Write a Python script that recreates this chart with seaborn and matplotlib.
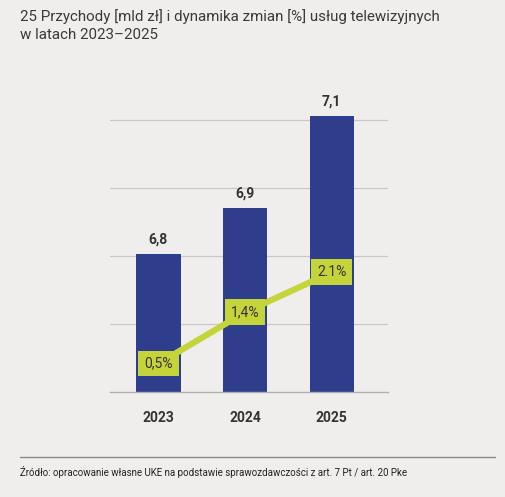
import matplotlib
matplotlib.use("Agg")
import matplotlib.pyplot as plt
import seaborn as sns
import pandas as pd
import numpy as np

years = ["2023", "2024", "2025"]
revenue = [6.8, 6.9, 7.1]          # mld zł
growth = [0.5, 1.4, 2.1]           # %
revenue_labels = ["6,8", "6,9", "7,1"]
growth_labels = ["0,5%", "1,4%", "2.1%"]

title = "25 Przychody [mld zł] i dynamika zmian [%] usług telewizyjnych\nw latach 2023\u20132025"
source = "Źródło: opracowanie własne UKE na podstawie sprawozdawczości z art. 7 Pt / art. 20 Pke"

BG = "#efeeec"
BAR = "#2e3e8d"
LIME = "#c5d439"
TXT = "#333333"

sns.set_theme(style="white")
plt.rcParams["font.family"] = ["Roboto", "DejaVu Sans"]

df = pd.DataFrame({"year": years, "revenue": revenue, "growth": growth})

fig = plt.figure(figsize=(5.05, 4.97), dpi=100, facecolor=BG)
ax = fig.add_axes([110 / 505, 105 / 497, 278 / 505, 292 / 497])
ax.set_facecolor("none")

sns.barplot(data=df, x="year", y="revenue", color=BAR, width=0.51,
            saturation=1, linewidth=0, edgecolor="none", ax=ax, zorder=2)
ax.set_ylim(6.5, 6.5 + 292 / 460)
ax.set_xlim(-0.56, 2.65)
ax.set_yticks(6.5 + 0.1478 * np.arange(1, 5))
ax.yaxis.grid(True, color="#c8c8c8", linewidth=0.9)
ax.set_axisbelow(True)
ax.set_xlabel("")
ax.set_ylabel("")
for s in ["top", "left", "right"]:
    ax.spines[s].set_visible(False)
ax.spines["bottom"].set_color("#b0b0b0")
ax.spines["bottom"].set_linewidth(1)

for i, (v, t) in enumerate(zip(revenue, revenue_labels)):
    ax.annotate(t, (i, v), xytext=(0, 5), textcoords="offset points",
                ha="center", va="bottom", fontsize=10, fontweight="bold",
                color=TXT)

ax2 = ax.twinx()
ax2.set_ylim(0, 292 / 57)
sns.lineplot(x=np.arange(len(years)), y=growth, color=LIME, linewidth=4.5,
             ax=ax2, zorder=3)
ax2.set_axis_off()
for i, (g, t) in enumerate(zip(growth, growth_labels)):
    ax2.text(i, g, t, ha="center", va="center", fontsize=10, color=TXT,
             zorder=4,
             bbox=dict(boxstyle="square,pad=0.42", fc=LIME, ec="none"))

# twinx turns the left ticks back on
ax.tick_params(axis="y", left=False, right=False, labelleft=False)
ax.tick_params(axis="x", bottom=False, pad=8)
for lbl in ax.get_xticklabels():
    lbl.set_fontsize(10)
    lbl.set_fontweight("bold")
    lbl.set_color(TXT)

fig.text(20 / 505, 1 - 9 / 497, title, ha="left", va="top", fontsize=10.9,
         color="#3a3a3a", linespacing=1.35)

fig.add_artist(plt.Line2D([20 / 505, 495 / 505], [1 - 457 / 497] * 2,
                          color="#8a8a8a", linewidth=1))
fig.text(20 / 505, 1 - 472 / 497, source, ha="left", va="center",
         fontsize=7.05, color="#222222")

fig.savefig("out.png", dpi=100, facecolor=BG)
